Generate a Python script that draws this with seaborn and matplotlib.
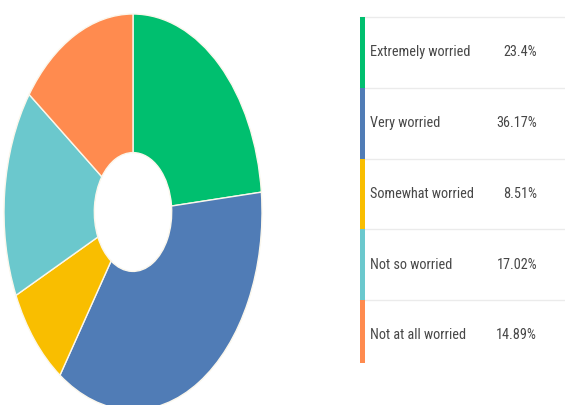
import matplotlib
matplotlib.use("Agg")
import matplotlib.pyplot as plt
from matplotlib import font_manager
from matplotlib.patches import Rectangle
import seaborn as sns

# Survey answers: how worried respondents are
categories = ["Extremely worried", "Very worried", "Somewhat worried",
              "Not so worried", "Not at all worried"]
shares = [23.4, 36.17, 8.51, 17.02, 14.89]
value_labels = ["23.4%", "36.17%", "8.51%", "17.02%", "14.89%"]
colors = ["#00BF6F", "#507CB6", "#F9BE00", "#6BC8CD", "#FF8B4F"]

sns.set_theme(style="white")
palette = sns.color_palette(colors)

# Prefer a narrow face for the table text
installed = {f.name for f in font_manager.fontManager.ttflist}
label_font = "DejaVu Sans"
for fam in ["Roboto Condensed", "Liberation Sans Narrow", "Roboto"]:
    if fam in installed:
        label_font = fam
        break
plt.rcParams["font.family"] = [label_font, "DejaVu Sans"]

W, H = 565, 405
fig = plt.figure(figsize=(W / 100, H / 100), dpi=100)
fig.patch.set_facecolor("white")


def px_box(x0, y0, x1, y1):
    return [x0 / W, 1 - y1 / H, (x1 - x0) / W, (y1 - y0) / H]


# Donut, stretched vertically
ax = fig.add_axes(px_box(4, 14, 262, 410))
ax.pie(shares, colors=palette, startangle=90, counterclock=False,
       wedgeprops=dict(width=0.70, edgecolor="#fbf7ec", linewidth=1.0))
ax.set_aspect("auto")
ax.set_xlim(-1, 1)
ax.set_ylim(-1, 1)
ax.axis("off")

# Table of shares on the right
tx = fig.add_axes([0, 0, 1, 1])
tx.set_xlim(0, W)
tx.set_ylim(H, 0)
tx.axis("off")

row_top0, row_h, bar_end = 17, 70.75, 363
text_color = "#474747"

fig.canvas.draw()
renderer = fig.canvas.get_renderer()
probe = tx.text(0, 0, categories[0], fontsize=12)
w = probe.get_window_extent(renderer).width
probe.remove()
fs = 12 * 100 / w

for i, (cat, val, col) in enumerate(zip(categories, value_labels, palette)):
    top = row_top0 + i * row_h
    tx.plot([360, W], [top, top], color="#ebebeb", lw=1.0, zorder=1)
    bottom = min(top + row_h, bar_end)
    tx.add_patch(Rectangle((360, top), 5, bottom - top, color=col, lw=0, zorder=2))
    yc = top + row_h / 2
    tx.text(370, yc, cat, fontsize=fs, color=text_color, ha="left", va="center")
    tx.text(537, yc, val, fontsize=fs, color=text_color, ha="right", va="center")

fig.savefig("out.png", dpi=100, facecolor="white")
